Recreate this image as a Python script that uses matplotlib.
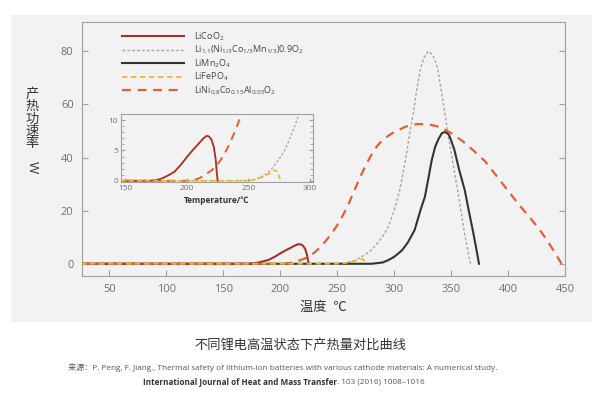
import numpy as np
import matplotlib
matplotlib.use("Agg")
import matplotlib.pyplot as plt
from matplotlib.patches import Rectangle

plt.rcParams['font.family'] = ['Open Sans', 'Noto Sans CJK SC', 'DejaVu Sans']
plt.rcParams['mathtext.fontset'] = 'custom'
plt.rcParams['mathtext.rm'] = 'Open Sans'
plt.rcParams['mathtext.it'] = 'Open Sans'

# -------------------------------------
# data
# -------------------------------------
licoo2_t = [25, 170, 175, 180, 185, 190, 195, 200, 205, 210, 213, 216, 218, 220, 222, 223.5, 224.5, 225]
licoo2_q = [0, 0, 0.1, 0.4, 0.9, 1.5, 2.6, 3.9, 5.1, 6.2, 6.9, 7.4, 7.3, 6.8, 5.5, 3.4, 1.0, 0]

nmc_t = [25, 250, 255, 260, 265, 270, 275, 280, 285, 290, 295, 300, 305, 310, 314, 317, 320, 323,
         326, 330, 334, 338, 341, 344, 348, 352, 356, 359, 362, 365, 367]
nmc_q = [0, 0, 0.2, 0.6, 1.2, 2.2, 3.6, 5.2, 7.6, 10.3, 14, 20, 28, 39, 50, 57, 66, 73,
         77.5, 80, 78.5, 74, 66, 58, 47, 37, 27, 19, 11, 4.5, 0]

limn_t = [25, 280, 290, 295, 300, 307, 312, 318, 323, 327, 330, 333, 336, 339, 342, 345, 348,
          350, 353, 357, 362, 366, 369, 372, 374.5]
limn_q = [0, 0, 0.5, 1.4, 2.6, 5.1, 8, 12.7, 20, 25.2, 32, 39, 44, 47, 49.2, 49.6, 48.6,
          46.5, 42.7, 35.5, 27.7, 19, 12.7, 6, 0]

lfp_t = [25, 245, 250, 255, 260, 265, 268, 271, 273, 274.5, 275.5, 276]
lfp_q = [0, 0, 0.05, 0.2, 0.5, 0.95, 1.35, 1.75, 1.6, 1.0, 0.4, 0]

nca_t = [25, 200, 205, 210, 215, 220, 225, 230, 235, 240, 245, 250, 255, 260, 265, 270, 275,
         280, 285, 290, 295, 300, 310, 320, 330, 340, 350, 360, 370, 380, 390, 400, 410,
         420, 430, 440, 447]
nca_q = [0, 0, 0.1, 0.4, 1.0, 1.7, 2.7, 4.2, 6.2, 8.6, 11.3, 14.5, 18.2, 22.5, 27.5, 32.5, 37,
         41, 44.3, 46.6, 48.2, 49.6, 51.6, 52.6, 52.5, 51.5, 49.2, 46.2, 42.5, 38.5, 33, 27.5, 22,
         17, 11.5, 5, 0]

labels = [
    r'LiCoO$_2$',
    r'Li$_{1.1}$(Ni$_{1/3}$Co$_{1/3}$Mn$_{1/3}$)0.9O$_2$',
    r'LiMn$_2$O$_4$',
    r'LiFePO$_4$',
    r'LiNi$_{0.8}$Co$_{0.15}$Al$_{0.05}$O$_2$',
]

RED = '#a8322a'
GRAY = '#a6a6a6'
BLACK = '#333333'
YELLOW = '#f0b820'
ORANGE = '#e0603a'
BG = '#f2f2f2'
SPINE = '#a0a0a0'


def draw_curves(ax, lw_scale=1.0, with_limn=True):
    ax.plot(nmc_t, nmc_q, color=GRAY, lw=1.0 * lw_scale, dashes=(2, 1.5), label=labels[1], zorder=2)
    if with_limn:
        ax.plot(limn_t, limn_q, color=BLACK, lw=1.5 * lw_scale, label=labels[2], zorder=3)
    ax.plot(licoo2_t, licoo2_q, color=RED, lw=1.5 * lw_scale, label=labels[0], zorder=4)
    ax.plot(nca_t, nca_q, color=ORANGE, lw=1.6 * lw_scale, dashes=(4, 3), label=labels[4], zorder=5)
    ax.plot(lfp_t, lfp_q, color=YELLOW, lw=1.3 * lw_scale, dashes=(3, 2), label=labels[3], zorder=6)


def style_axes(ax):
    ax.set_facecolor(BG)
    for s in ax.spines.values():
        s.set_color(SPINE)
        s.set_linewidth(0.8)
    ax.tick_params(which='both', direction='in', color=SPINE, labelcolor='#707070',
                   left=True, right=True, bottom=True, top=False)


fig = plt.figure(figsize=(6, 3.99), dpi=100)
fig.patch.set_facecolor('white')
fig.patches.append(Rectangle((11 / 600, 1 - 322 / 399), 581 / 600, 307 / 399,
                             transform=fig.transFigure, facecolor=BG, edgecolor='none', zorder=-10))

# -------------------------------------
# main axes
# -------------------------------------
ax = fig.add_axes([82 / 600, 1 - 276 / 399, 483 / 600, 254 / 399])
style_axes(ax)
draw_curves(ax)
ax.set_xlim(26, 450)
ax.set_ylim(-4.6, 91)
ax.set_xticks(np.arange(50, 451, 50))
ax.set_yticks(np.arange(0, 81, 20))
ax.tick_params(labelsize=8, length=4, pad=6)

h, l = ax.get_legend_handles_labels()
order = [l.index(x) for x in labels]
leg = ax.legend([h[i] for i in order], [l[i] for i in order], loc='upper left',
                bbox_to_anchor=(0.066, 1.0), frameon=False, fontsize=6.5,
                handlelength=6.9, handletextpad=1.1, labelspacing=0.12, labelcolor='#444444')

ax.set_xlabel('温度  ℃', fontsize=9.5, color='#333333', labelpad=4)
fig.text(32 / 600, 1 - 119 / 399, '产\n热\n功\n速\n率', ha='center', va='center',
         fontsize=9.5, color='#333333', linespacing=0.95)
fig.text(32 / 600, 1 - 167 / 399, 'W', ha='center', va='center', rotation=-90,
         fontsize=9.5, color='#333333')

# -------------------------------------
# inset (zoom of the low-temperature part)
# -------------------------------------
ins = fig.add_axes([121 / 600, 1 - 182 / 399, 192 / 600, 68 / 399])
style_axes(ins)
draw_curves(ins, lw_scale=0.9, with_limn=False)
ins.set_xlim(146.5, 302.5)
ins.set_ylim(-0.2, 11)
ins.set_xticks([150, 200, 250, 300])
ins.set_yticks([0, 5, 10])
ins.set_yticks(np.arange(0, 11, 1), minor=True)
ins.tick_params(labelsize=6, length=3, pad=2)
ins.tick_params(which='minor', length=2)
ins.set_xlabel('Temperature/℃', fontsize=6, fontweight='bold', color='#333333', labelpad=3)

# -------------------------------------
# caption
# -------------------------------------
fig.text(0.5, 1 - 345 / 399, '不同锂电高温状态下产热量对比曲线', ha='center', va='center',
         fontsize=9.5, color='#333333')
fig.text(283 / 600, 1 - 367 / 399,
         '来源：P. Peng, F. Jiang., Thermal safety of lithium-ion batteries with various cathode materials: A numerical study.',
         ha='center', va='center', fontsize=5.85, color='#555555')
t1 = fig.text(143 / 600, 1 - 382 / 399, 'International Journal of Heat and Mass Transfer',
              ha='left', va='center', fontsize=5.85, fontweight='bold', color='#333333')
fig.canvas.draw()
bb = t1.get_window_extent()
fig.text(bb.x1 / 600, 1 - 382 / 399, '. 103 (2016) 1008–1016', ha='left', va='center',
         fontsize=5.85, color='#555555')

fig.savefig('out.png', dpi=100, facecolor='white')
